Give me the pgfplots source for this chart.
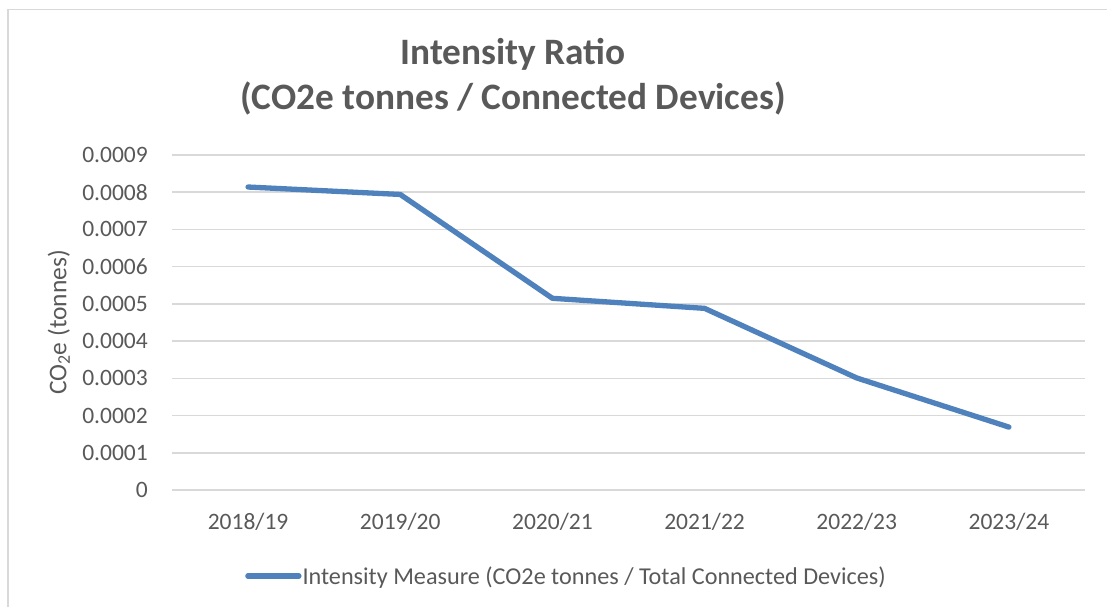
\documentclass[border=0pt]{standalone}
\usepackage{fontspec}
\setmainfont{Carlito}
\usepackage{pgfplots}
\pgfplotsset{compat=1.18}
\definecolor{txt}{HTML}{595959}
\definecolor{gridc}{HTML}{D9D9D9}
\definecolor{serie}{HTML}{4F81BD}
\begin{document}
\begin{tikzpicture}[x=1pt,y=1pt]
\path[use as bounding box] (0,0) rectangle (1107,607);
\draw[gridc, line width=1.5pt] (8,0) -- (8,597.5) -- (1107,597.5);
\begin{axis}[
  at={(172pt,117pt)}, anchor=south west,
  scale only axis, width=913pt, height=335pt,
  xmin=-0.5, xmax=5.5, ymin=0, ymax=0.0009,
  xtick={0,1,2,3,4,5},
  xticklabels={2018/19,2019/20,2020/21,2021/22,2022/23,2023/24},
  ytick={0,0.0001,0.0002,0.0003,0.0004,0.0005,0.0006,0.0007,0.0008,0.0009},
  yticklabels={0,0.0001,0.0002,0.0003,0.0004,0.0005,0.0006,0.0007,0.0008,0.0009},
  major tick length=0pt,
  axis line style={draw=none},
  xmajorgrids=false, ymajorgrids=true,
  major grid style={gridc, line width=1.5pt},
  tick label style={font=\fontsize{23.5}{27}\selectfont, text=txt},
  yticklabel style={anchor=east, inner sep=0pt, xshift=-24pt},
  xticklabel style={anchor=base, inner sep=0pt, yshift=-39pt},
  ylabel={CO\textsubscript{2}e (tonnes)},
  every axis y label/.style={at={(axis description cs:-0.124,0.5)}, rotate=90, anchor=center, font=\fontsize{25.5}{28}\selectfont, text=txt},
  legend style={at={(axis description cs:0.08,-0.2567)}, anchor=west, draw=none, fill=none, inner sep=0pt, font=\fontsize{24.2}{28}\selectfont, text=txt, nodes={inner sep=1pt}},
  legend cell align=left,
  legend image code/.code={\draw[#1, line cap=round] (0pt,0pt) -- (51pt,0pt);},
  scaled y ticks=false,
]
\addplot[serie, line width=5.3pt, line cap=round, line join=round] coordinates {
  (0,0.000814) (1,0.000794) (2,0.000515) (3,0.000488) (4,0.000301) (5,0.000169)
};
\addlegendentry{Intensity Measure (CO2e tonnes / Total Connected Devices)}
\end{axis}
\node[anchor=base, text=txt, font=\fontsize{37.3}{40}\selectfont\bfseries, inner sep=0pt] at (513,542) {Intensity Ratio};
\node[anchor=base, text=txt, font=\fontsize{37.3}{40}\selectfont\bfseries, inner sep=0pt] at (513,497) {(CO2e tonnes / Connected Devices)};
\end{tikzpicture}
\end{document}
